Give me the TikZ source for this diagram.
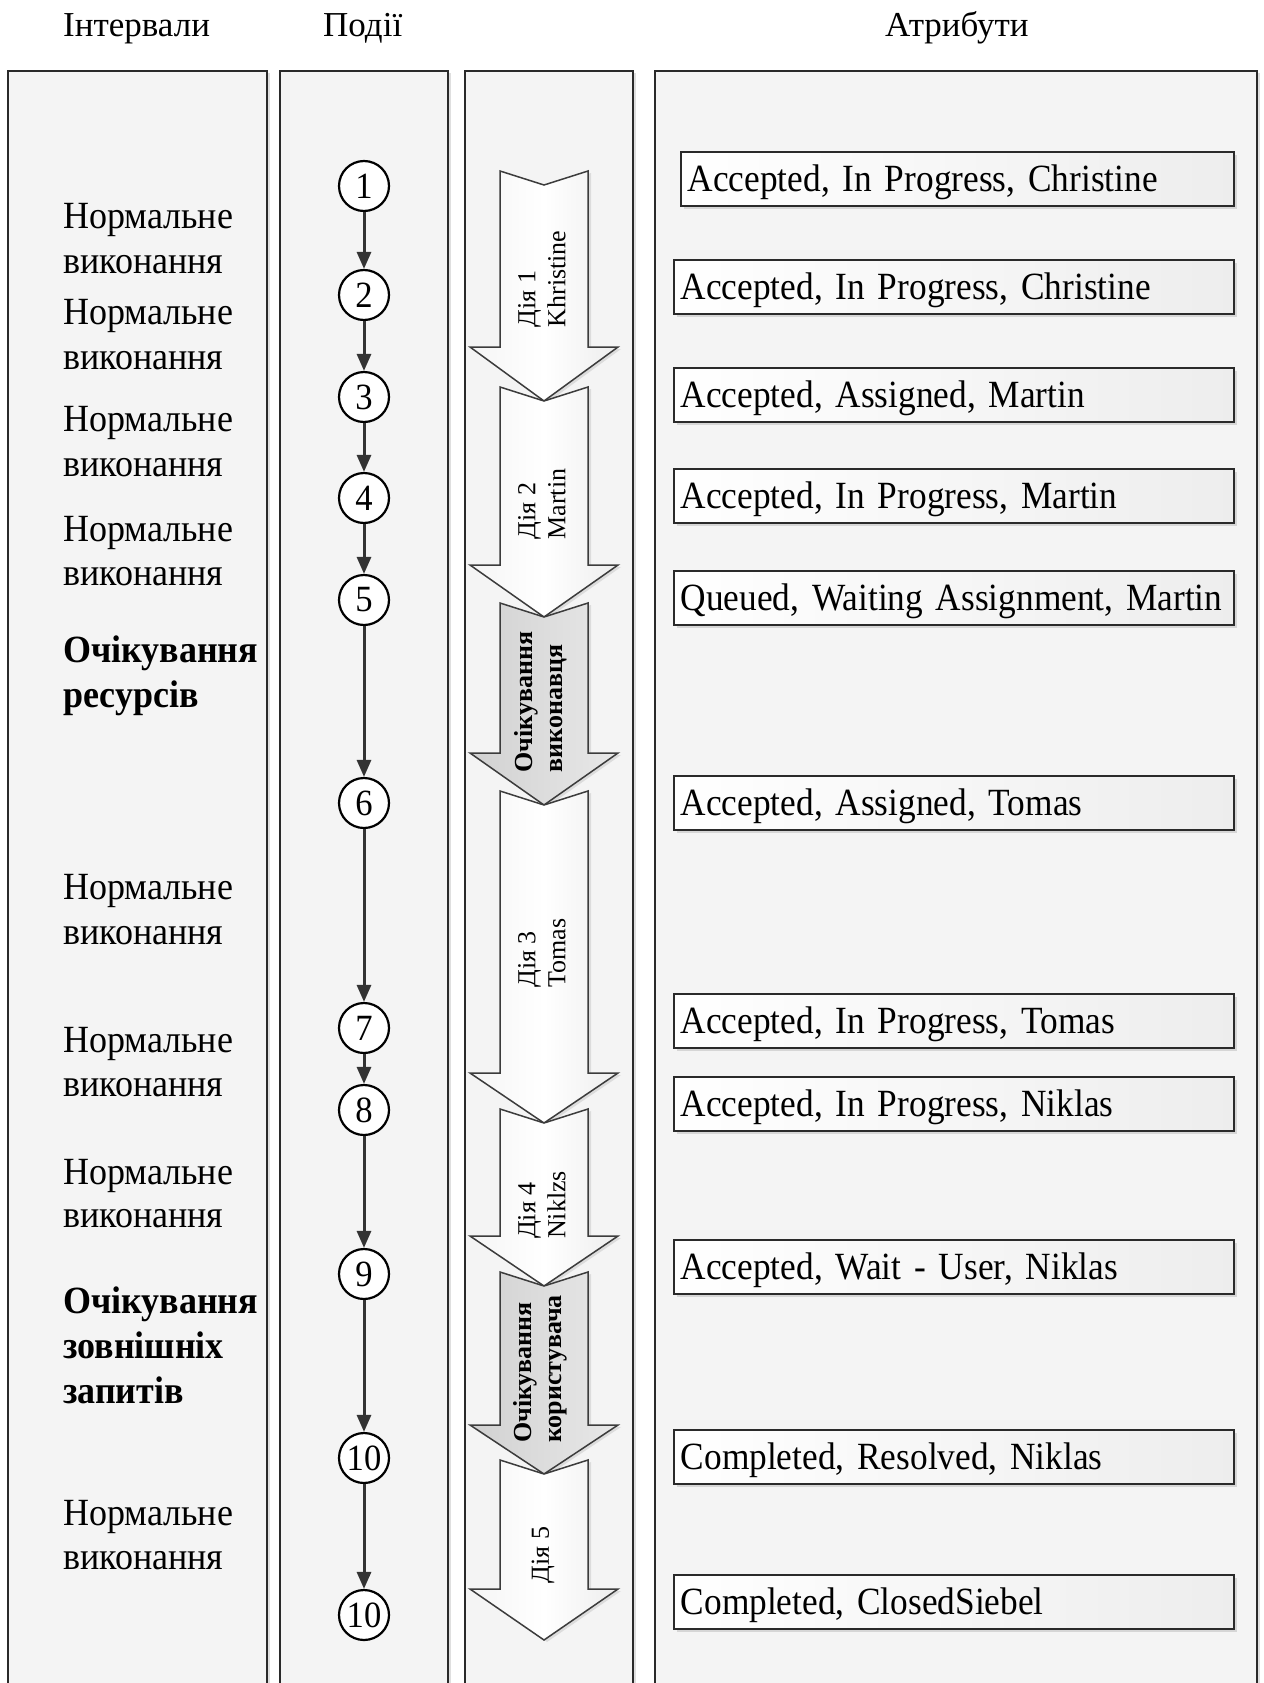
\documentclass[tikz,border=0pt]{standalone}
\usepackage{fontspec}
\setmainfont{Liberation Serif}
\newfontfamily\cfont{Liberation Serif}[FakeStretch=0.935]
\newfontfamily\bfont{Liberation Serif}[FakeStretch=0.917]
\usetikzlibrary{arrows.meta,shadows}
\definecolor{panelfill}{HTML}{F4F4F4}
\definecolor{edgecol}{HTML}{2A2A2A}
\definecolor{conncol}{HTML}{333333}
\definecolor{arrowedge}{HTML}{3C3C3C}
\newcommand{\flowarrow}[4]{%
  \draw[#1] (500,#2) -- (544,#2+14) -- (588,#2) -- (588,#3) -- (618,#3)
    -- (544,#4) -- (470,#3) -- (500,#3) -- cycle;}
\begin{document}
\begin{tikzpicture}[x=1pt,y=-1pt,
  panel/.style={draw=edgecol, line width=2pt, fill=panelfill,
    drop shadow={opacity=0.25, shadow xshift=3pt, shadow yshift=-2pt}},
  hdr/.style={anchor=base west, inner sep=0pt, font=\fontsize{35}{40}\selectfont},
  lbl/.style={anchor=base west, inner sep=0pt, font=\cfont\fontsize{38.5}{45}\selectfont},
  blbl/.style={lbl, font=\cfont\bfseries\fontsize{38.5}{45}\selectfont},
  evt/.style={circle, draw=black, line width=2.2pt, fill=white, minimum size=50pt,
    inner sep=0pt, font=\cfont\fontsize{37}{37}\selectfont},
  conn/.style={draw=conncol, line width=3pt, -{Triangle[length=17pt,width=14pt]}},
  attr/.style={draw=edgecol, line width=1.6pt, left color=white, right color=gray!14,
    anchor=north west, minimum height=54pt, inner ysep=0pt, inner xsep=7pt,
    text width=546pt, align=left, text height=33pt, text depth=7pt,
    font=\bfont\fontsize{38.5}{45}\selectfont,
    drop shadow={opacity=0.25, shadow xshift=3pt, shadow yshift=-3pt}},
  whitearrow/.style={draw=arrowedge, line width=1.5pt, left color=gray!8,
    right color=gray!14, middle color=white,
    drop shadow={opacity=0.2, shadow xshift=3pt, shadow yshift=-2pt}},
  grayarrow/.style={draw=arrowedge, line width=1.5pt, left color=gray!36,
    right color=gray!18, middle color=gray!27,
    drop shadow={opacity=0.2, shadow xshift=3pt, shadow yshift=-2pt}},
  albl/.style={align=left, inner sep=0pt, rotate=90, font=\fontsize{26}{30}\selectfont},
  balbl/.style={albl, font=\bfseries\fontsize{26}{30}\selectfont}
]
\useasboundingbox (0,0) rectangle (1263,1683);
\clip (0,0) rectangle (1263,1683);
\fill[white] (0,0) rectangle (1263,1683);

% headers
\node[hdr] (h1) at (63,36.7) {Інтервали};
\node[hdr] (h2) at (323,36.7) {Події};
\node[hdr] (h3) at (885,36.7) {Атрибути};

% panels
\filldraw[panel] (8,1700) -- (8,71) -- (267,71) -- (267,1700);
\filldraw[panel] (280,1700) -- (280,71) -- (448,71) -- (448,1700);
\filldraw[panel] (465,1700) -- (465,71) -- (633,71) -- (633,1700);
\filldraw[panel] (655,1700) -- (655,71) -- (1257,71) -- (1257,1700);

% interval labels
\node[lbl] (i1a) at (63,228) {Нормальне};
\node[lbl] (i1b) at (63,273.5) {виконання};
\node[lbl] (i2a) at (63,324) {Нормальне};
\node[lbl] (i2b) at (63,369) {виконання};
\node[lbl] (i3a) at (63,431) {Нормальне};
\node[lbl] (i3b) at (63,476) {виконання};
\node[lbl] (i4a) at (63,541) {Нормальне};
\node[lbl] (i4b) at (63,585.5) {виконання};
\node[blbl] (i5a) at (63,662.6) {Очікування};
\node[blbl] (i5b) at (63,707) {ресурсів};
\node[lbl] (i6a) at (63,899) {Нормальне};
\node[lbl] (i6b) at (63,944) {виконання};
\node[lbl] (i7a) at (63,1052) {Нормальне};
\node[lbl] (i7b) at (63,1096) {виконання};
\node[lbl] (i8a) at (63,1184) {Нормальне};
\node[lbl] (i8b) at (63,1227) {виконання};
\node[blbl] (i9a) at (63,1313) {Очікування};
\node[blbl] (i9b) at (63,1358) {зовнішніх};
\node[blbl] (i9c) at (63,1403) {запитів};
\node[lbl] (i10a) at (63,1525) {Нормальне};
\node[lbl] (i10b) at (63,1569) {виконання};

% events
\node[evt] (e1) at (364,186) {1};
\node[evt] (e2) at (364,295) {2};
\node[evt] (e3) at (364,397) {3};
\node[evt] (e4) at (364,498) {4};
\node[evt] (e5) at (364,600) {5};
\node[evt] (e6) at (364,803) {6};
\node[evt] (e7) at (364,1028) {7};
\node[evt] (e8) at (364,1110) {8};
\node[evt] (e9) at (364,1274) {9};
\node[evt] (e10) at (364,1458) {10};
\node[evt] (e11) at (364,1615) {10};
\draw[conn] (e1) -- (e2);
\draw[conn] (e2) -- (e3);
\draw[conn] (e3) -- (e4);
\draw[conn] (e4) -- (e5);
\draw[conn] (e5) -- (e6);
\draw[conn] (e6) -- (e7);
\draw[conn] (e7) -- (e8);
\draw[conn] (e8) -- (e9);
\draw[conn] (e9) -- (e10);
\draw[conn] (e10) -- (e11);

% activity arrows
\flowarrow{whitearrow}{171}{347}{401}
\flowarrow{whitearrow}{387}{565}{617}
\flowarrow{grayarrow}{603}{753}{805}
\flowarrow{whitearrow}{791}{1073}{1123}
\flowarrow{whitearrow}{1109}{1236}{1286}
\flowarrow{grayarrow}{1272}{1425}{1474}
\flowarrow{whitearrow}{1460}{1589}{1640}
\node[albl] (t1) at (542,279) {Дія 1\\Khristine};
\node[albl] (t2) at (542,504) {Дія 2\\Martin};
\node[balbl] (t3) at (541,702) {Очікування\\виконавця};
\node[albl] (t4) at (542,953) {Дія 3\\Tomas};
\node[albl] (t5) at (542,1205) {Дія 4\\Niklzs};
\node[balbl] (t6) at (540,1369) {Очікування\\користувача};
\node[albl] (t7) at (543,1555) {Дія 5};

% attributes
\node[attr, text width=539pt] (a1) at (680,151) {\mbox{Accepted, In Progress, Christine}};
\node[attr] (a2) at (673,259) {\mbox{Accepted, In Progress, Christine}};
\node[attr] (a3) at (673,367) {\mbox{Accepted, Assigned, Martin}};
\node[attr] (a4) at (673,468) {\mbox{Accepted, In Progress, Martin}};
\node[attr] (a5) at (673,570) {\mbox{Queued, Waiting Assignment, Martin}};
\node[attr] (a6) at (673,775) {\mbox{Accepted, Assigned, Tomas}};
\node[attr] (a7) at (673,993) {\mbox{Accepted, In Progress, Tomas}};
\node[attr] (a8) at (673,1076) {\mbox{Accepted, In Progress, Niklas}};
\node[attr] (a9) at (673,1239) {\mbox{Accepted, Wait - User, Niklas}};
\node[attr] (a10) at (673,1429) {\mbox{Completed, Resolved, Niklas}};
\node[attr] (a11) at (673,1574) {\mbox{Completed, ClosedSiebel}};
\end{tikzpicture}
\end{document}
